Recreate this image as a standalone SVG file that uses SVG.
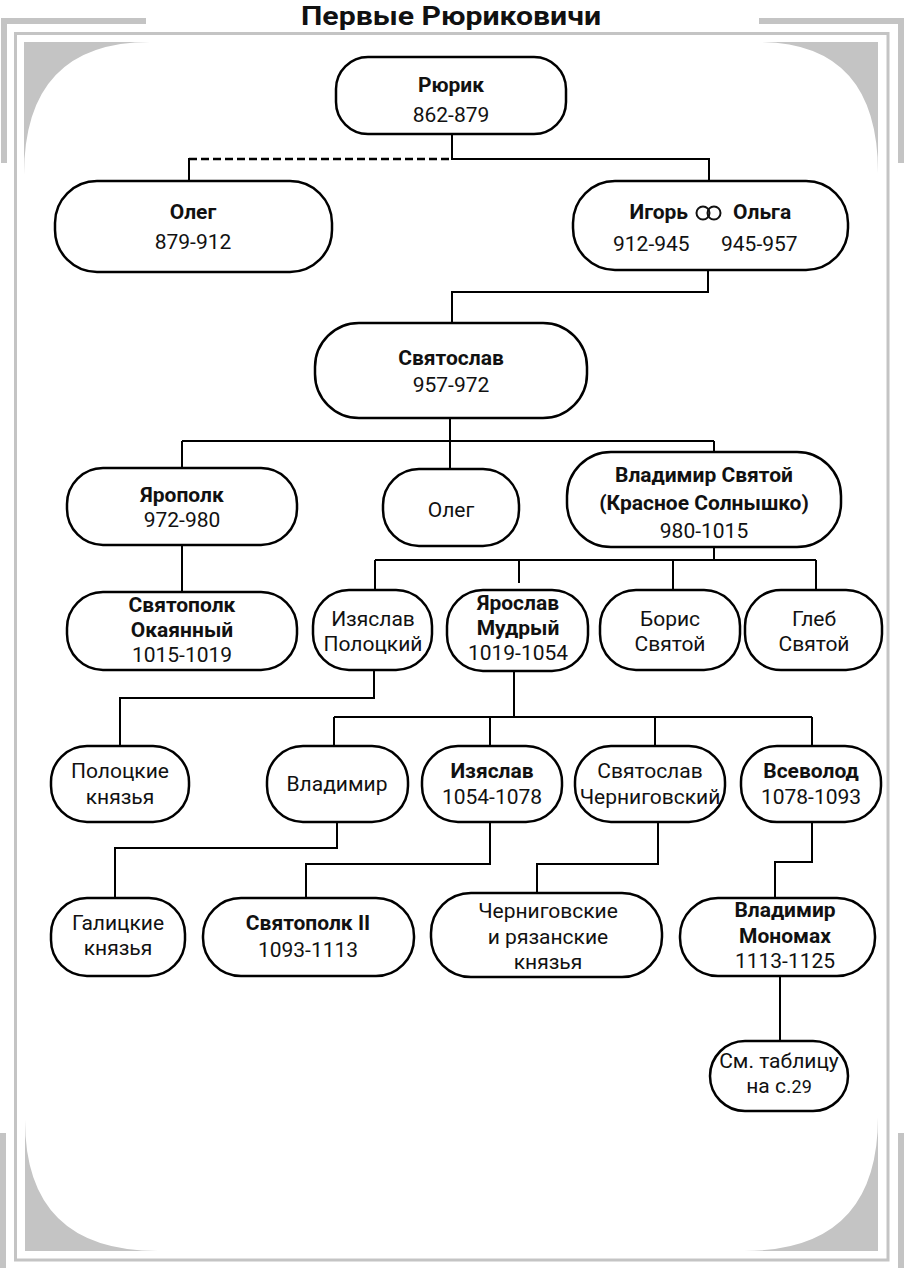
<svg xmlns="http://www.w3.org/2000/svg" width="905" height="1268" viewBox="0 0 905 1268">
<style>
.frame{fill:#c4c4c4}
.node{fill:#fff;stroke:#000;stroke-width:2.5}
.c{fill:none;stroke:#000;stroke-width:2}
.d{fill:none;stroke:#000;stroke-width:2.5;stroke-dasharray:8 4}
text{font-family:Roboto,"Liberation Sans",sans-serif;font-size:21px;fill:#111;text-anchor:middle}
.b{font-weight:bold}
.t{font-weight:bold;font-size:26px}
</style>
<rect width="905" height="1268" fill="#fff"/>
<g id="frame">
<rect class="frame" x="1" y="18" width="145" height="6"/>
<rect class="frame" x="1" y="18" width="6" height="145"/>
<rect class="frame" x="759" y="18" width="145" height="6"/>
<rect class="frame" x="898" y="18" width="6" height="145"/>
<rect class="frame" x="0" y="1133" width="6" height="135"/>
<rect class="frame" x="898" y="1133" width="6" height="135"/>
<rect x="15.5" y="33.5" width="872.5" height="1226.5" fill="none" stroke="#c4c4c4" stroke-width="3"/>
<path class="frame" d="M24,42 H150 Q24,42 24,175 Z"/>
<path class="frame" d="M878,42 H758 Q878,42 878,173 Z"/>
<path class="frame" d="M25,1251 V1120 Q25,1251 158,1251 Z"/>
<path class="frame" d="M878,1251 V1117 Q878,1251 744,1251 Z"/>
</g>
<text class="t" x="451" y="25" textLength="300" lengthAdjust="spacingAndGlyphs">Первые Рюриковичи</text>
<g id="connectors">
<path class="d" d="M189,159 H452"/>
<path class="c" d="M452,134 V159 H709 V181 M189,158 V181"/>
<path class="c" d="M708,270 V292 H452 V323"/>
<path class="c" d="M450,418 V441 M182,441 H714 M182,441 V468 M450,441 V469 M714,441 V452"/>
<path class="c" d="M182,545 V592"/>
<path class="c" d="M714,547 V560 M375,560 H816 M375,560 V590 M519,560 V583 M673,560 V590 M816,560 V590"/>
<path class="c" d="M374,670 V698 H120 V746"/>
<path class="c" d="M514,671 V717 M334,717 H812 M334,717 V746 M490,717 V746 M655,717 V746 M812,717 V746"/>
<path class="c" d="M337,822 V848 H115 V898"/>
<path class="c" d="M490,822 V864 H306 V898"/>
<path class="c" d="M658,822 V864 H537 V893"/>
<path class="c" d="M812,822 V862 H775 V898"/>
<path class="c" d="M780,976 V1041"/>
</g>
<g id="rurik"><rect class="node" x="336" y="57" width="230" height="77" rx="32"/><text class="b" x="451" y="92">Рюрик</text><text x="451" y="122">862-879</text></g>
<g id="oleg1"><rect class="node" x="55" y="181" width="277" height="91" rx="42"/><text class="b" x="193" y="219">Олег</text><text x="193" y="249">879-912</text></g>
<g id="igor-olga"><rect class="node" x="573" y="181" width="275" height="89" rx="42"/>
<text class="b" x="688" y="219" style="text-anchor:end">Игорь</text>
<circle cx="703" cy="213" r="6.5" fill="none" stroke="#111" stroke-width="2"/><circle cx="714" cy="213" r="6.5" fill="none" stroke="#111" stroke-width="2"/>
<text class="b" x="733" y="219" style="text-anchor:start">Ольга</text>
<text x="613" y="251" style="text-anchor:start">912-945</text><text x="721" y="251" style="text-anchor:start">945-957</text></g>
<g id="svyatoslav"><rect class="node" x="315" y="323" width="272" height="95" rx="44"/><text class="b" x="451" y="365">Святослав</text><text x="451" y="392">957-972</text></g>
<g id="yaropolk"><rect class="node" x="67" y="468" width="230" height="77" rx="36"/><text class="b" x="182" y="502">Ярополк</text><text x="182" y="527">972-980</text></g>
<g id="oleg2"><rect class="node" x="383" y="469" width="136" height="77" rx="36"/><text x="451" y="517">Олег</text></g>
<g id="vladimir1"><rect class="node" x="567" y="452" width="274" height="95" rx="44"/><text class="b" x="704" y="482">Владимир Святой</text><text class="b" x="704" y="510">(Красное Солнышко)</text><text x="704" y="538">980-1015</text></g>
<g id="svyatopolk1"><rect class="node" x="67" y="592" width="230" height="78" rx="36"/><text class="b" x="182" y="612">Святополк</text><text class="b" x="182" y="637">Окаянный</text><text x="182" y="662">1015-1019</text></g>
<g id="izyaslav-p"><rect class="node" x="313" y="590" width="119" height="80" rx="36"/><text x="373" y="626">Изяслав</text><text x="373" y="651">Полоцкий</text></g>
<g id="yaroslav"><rect class="node" x="447" y="590" width="141" height="81" rx="36"/><text class="b" x="518" y="610">Ярослав</text><text class="b" x="518" y="635">Мудрый</text><text x="518" y="660">1019-1054</text></g>
<g id="boris"><rect class="node" x="600" y="590" width="140" height="80" rx="36"/><text x="670" y="626">Борис</text><text x="670" y="651">Святой</text></g>
<g id="gleb"><rect class="node" x="745" y="590" width="137" height="80" rx="36"/><text x="814" y="626">Глеб</text><text x="814" y="651">Святой</text></g>
<g id="polotsk"><rect class="node" x="51" y="746" width="138" height="76" rx="36"/><text x="120" y="778">Полоцкие</text><text x="120" y="804">князья</text></g>
<g id="vladimir2"><rect class="node" x="267" y="746" width="141" height="76" rx="36"/><text x="337" y="791">Владимир</text></g>
<g id="izyaslav"><rect class="node" x="422" y="746" width="140" height="76" rx="36"/><text class="b" x="492" y="778">Изяслав</text><text x="492" y="804">1054-1078</text></g>
<g id="svyatoslav-ch"><rect class="node" x="575" y="746" width="150" height="76" rx="36"/><text x="650" y="778">Святослав</text><text x="650" y="804">Черниговский</text></g>
<g id="vsevolod"><rect class="node" x="741" y="746" width="140" height="76" rx="36"/><text class="b" x="811" y="778">Всеволод</text><text x="811" y="804">1078-1093</text></g>
<g id="galich"><rect class="node" x="51" y="898" width="134" height="78" rx="36"/><text x="118" y="930">Галицкие</text><text x="118" y="955">князья</text></g>
<g id="svyatopolk2"><rect class="node" x="203" y="898" width="211" height="78" rx="38"/><text class="b" x="308" y="930">Святополк II</text><text x="308" y="957">1093-1113</text></g>
<g id="chernigov"><rect class="node" x="431" y="893" width="231" height="84" rx="40"/><text x="548" y="918">Черниговские</text><text x="548" y="944">и рязанские</text><text x="548" y="969">князья</text></g>
<g id="monomakh"><rect class="node" x="680" y="898" width="195" height="78" rx="38"/><text class="b" x="785" y="917">Владимир</text><text class="b" x="785" y="943">Мономах</text><text x="785" y="968">1113-1125</text></g>
<g id="see-table"><rect class="node" x="710" y="1041" width="138" height="70" rx="35"/><text x="779" y="1068">См. таблицу</text><text x="779" y="1093">на с.<tspan style="font-size:18px">29</tspan></text></g>
</svg>
